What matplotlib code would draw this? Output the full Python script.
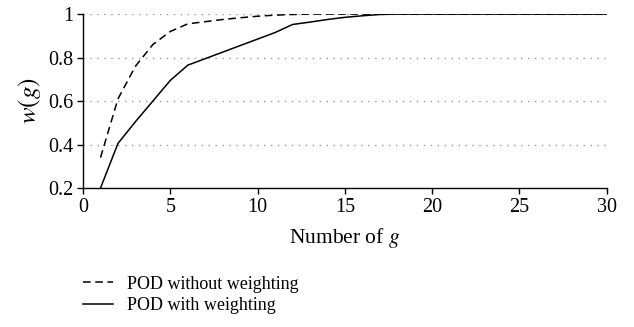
import matplotlib
matplotlib.use("Agg")
import matplotlib.pyplot as plt

plt.rcParams['font.family'] = ['Liberation Serif', 'DejaVu Serif']
plt.rcParams['mathtext.fontset'] = 'stix'

x = list(range(1, 31))
without_w = [0.34, 0.61, 0.76, 0.86, 0.92, 0.955, 0.965, 0.975, 0.983, 0.99,
             0.995, 0.998, 1.0, 1.0, 1.0, 1.0, 1.0, 1.0, 1.0, 1.0,
             1.0, 1.0, 1.0, 1.0, 1.0, 1.0, 1.0, 1.0, 1.0, 1.0]
with_w = [0.2, 0.405, 0.505, 0.60, 0.695, 0.765, 0.795, 0.825, 0.855, 0.885,
          0.915, 0.952, 0.963, 0.975, 0.985, 0.992, 0.998, 1.0, 1.0, 1.0,
          1.0, 1.0, 1.0, 1.0, 1.0, 1.0, 1.0, 1.0, 1.0, 1.0]
xticks = [0, 5, 10, 15, 20, 25, 30]
yticks = [0.2, 0.4, 0.6, 0.8, 1.0]
ytick_labels = ['0.2', '0.4', '0.6', '0.8', '1']

fig = plt.figure(figsize=(6.34, 3.27), dpi=100)
ax = fig.add_axes([0.131, 0.425, 0.826, 0.532])

for yv in yticks[1:]:
    ax.axhline(yv, color='#999999', linestyle=(0, (1, 4)), linewidth=1.0, zorder=0)

l1, = ax.plot(x, without_w, color='black', linestyle=(0, (5, 3)), linewidth=1.1, label='POD without weighting')
l2, = ax.plot(x, with_w, color='black', linestyle='-', linewidth=1.1, label='POD with weighting')

ax.set_xlim(0, 30)
ax.set_ylim(0.2, 1.0)
ax.set_xticks(xticks)
ax.set_yticks(yticks)
ax.set_yticklabels(ytick_labels)
ax.spines['top'].set_visible(False)
ax.spines['right'].set_visible(False)
ax.spines['left'].set_linewidth(1.0)
ax.spines['bottom'].set_linewidth(1.0)
ax.tick_params(direction='out', length=4, width=1.0, labelsize=14.5, pad=3)
ax.set_xlabel(r'Number of $g$', fontsize=15.5, labelpad=7)
ax.set_ylabel(r'$w(g)$', fontsize=18, labelpad=4)

fig.legend(handles=[l1, l2], loc='center left', bbox_to_anchor=(0.131, 0.098),
           frameon=False, fontsize=13, handlelength=1.65, handletextpad=0.8,
           labelspacing=0.25, borderpad=0, borderaxespad=0)

fig.savefig('out.png', dpi=100)
